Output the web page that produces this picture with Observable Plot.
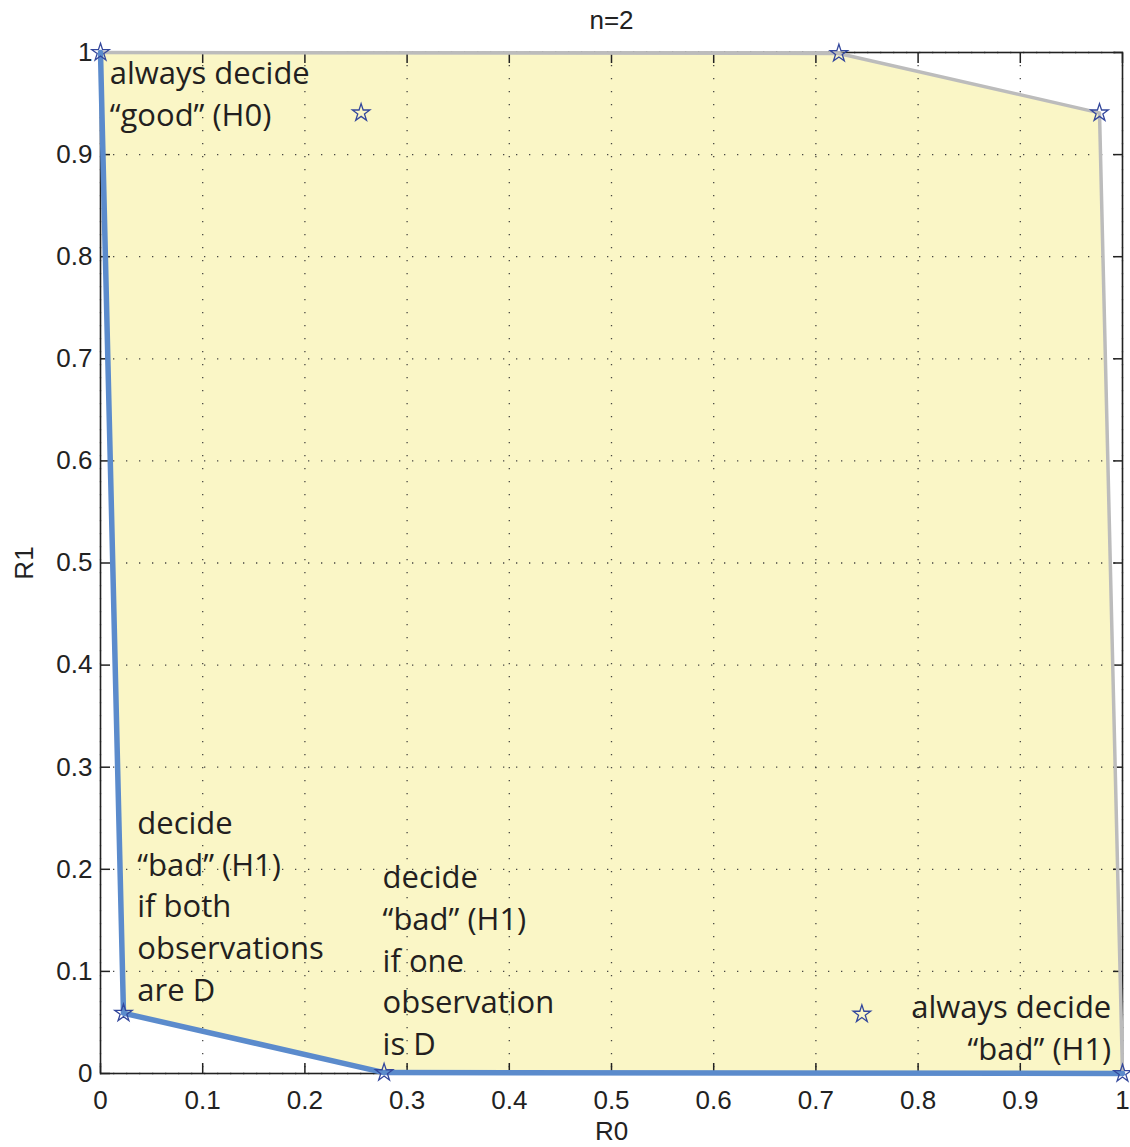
<!DOCTYPE html>
<html><head><meta charset="utf-8">
<script src="https://cdn.jsdelivr.net/npm/d3@7"></script>
<script src="https://cdn.jsdelivr.net/npm/@observablehq/plot@0.6"></script>
<style>body{margin:0;background:#fff}</style>
</head><body><div id="chart"></div>
<script>
// Achievable points (R0, R1) for n=2
const starR0 = [0, 0.0225, 0.2775, 1, 0.2550, 0.7225, 0.9775, 0.7450];
const starR1 = [1, 0.0591, 0.0009, 0, 0.9409, 0.9991, 0.9409, 0.0582];
// lower boundary (blue) and upper boundary (gray)
const lowerR0 = [0, 0.0225, 0.2775, 1];
const lowerR1 = [1, 0.0591, 0.0009, 0];
const upperR0 = [0, 0.7225, 0.9775, 1];
const upperR1 = [1, 0.9991, 0.9409, 0];
// ticks
const ticks = [0, 0.1, 0.2, 0.3, 0.4, 0.5, 0.6, 0.7, 0.8, 0.9, 1];
const tickLabels = ["0", "0.1", "0.2", "0.3", "0.4", "0.5", "0.6", "0.7", "0.8", "0.9", "1"];
// annotations
const noteText = ["always decide\n“good” (H0)", "decide\n“bad” (H1)\nif both\nobservations\nare D", "decide\n“bad” (H1)\nif one\nobservation\nis D", "always decide\n“bad” (H1)"];
const noteR0 = [0.009, 0.036, 0.276, 0.989];
const noteR1 = [0.962, 0.166, 0.113, 0.047];
const noteAlign = ["start", "start", "start", "end"];
const title = "n=2";

const pts = starR0.map((x, i) => ({x, y: starR1[i]}));
const lower = lowerR0.map((x, i) => ({x, y: lowerR1[i]}));
const upper = upperR0.map((x, i) => ({x, y: upperR1[i]}));
const hull = upper.concat(lower.slice().reverse());
const notes = noteText.map((t, i) => ({t, x: noteR0[i], y: noteR1[i], a: noteAlign[i]}));
const fmt = d => tickLabels[ticks.indexOf(d)];

const axisFont = "'Liberation Sans', Arial, sans-serif";
const noteFont = "'Open Sans', sans-serif";

const chart = Plot.plot({
  width: 1130, height: 1147,
  marginLeft: 100, marginRight: 8, marginTop: 52, marginBottom: 74,
  x: {domain: [0, 1]},
  y: {domain: [0, 1]},
  style: {fontFamily: axisFont, background: "#fff", color: "#222"},
  marks: [
    Plot.line(hull, {x: "x", y: "y", fill: "#faf6c6", stroke: "none", curve: "linear-closed"}),
    Plot.gridX(ticks, {stroke: "#333", strokeOpacity: 0.9, strokeWidth: 1.3, strokeDasharray: "1.3,11.7"}),
    Plot.gridY(ticks, {stroke: "#333", strokeOpacity: 0.9, strokeWidth: 1.3, strokeDasharray: "1.3,11.7"}),
    Plot.frame({stroke: "#222", strokeWidth: 1.6}),
    Plot.axisX(ticks, {anchor: "bottom", tickSize: 0, tickPadding: 17, tickFormat: fmt, fontSize: 26, label: "R0", labelAnchor: "center", labelOffset: 66, labelArrow: "none"}),
    Plot.axisY(ticks, {anchor: "left", tickSize: 0, tickPadding: 8, tickFormat: fmt, fontSize: 26, label: "R1", labelAnchor: "center", labelOffset: 86, labelArrow: "none"}),
    Plot.axisX(ticks, {anchor: "bottom", tickSize: -10, text: null, label: null, strokeWidth: 1.5}),
    Plot.axisX(ticks, {anchor: "top", tickSize: -10, text: null, label: null, strokeWidth: 1.5}),
    Plot.axisY(ticks, {anchor: "left", tickSize: -10, text: null, label: null, strokeWidth: 1.5}),
    Plot.axisY(ticks, {anchor: "right", tickSize: -10, text: null, label: null, strokeWidth: 1.5}),
    Plot.line(upper, {x: "x", y: "y", stroke: "#bcbcbc", strokeWidth: 3.5}),
    Plot.line(lower, {x: "x", y: "y", stroke: "#5b8bcc", strokeWidth: 5.5}),
    Plot.dot(pts, {x: "x", y: "y", symbol: "star", r: 5.5, stroke: "#33479c", strokeWidth: 1.3, fill: "none"}),
    Plot.text(notes.filter(d => d.a === "start"), {x: "x", y: "y", text: "t", textAnchor: "start", lineAnchor: "middle", lineHeight: 1.35, fontSize: 31, fontFamily: noteFont, fill: "#231f20"}),
    Plot.text(notes.filter(d => d.a === "end"), {x: "x", y: "y", text: "t", textAnchor: "end", lineAnchor: "middle", lineHeight: 1.35, fontSize: 31, fontFamily: noteFont, fill: "#231f20"}),
    Plot.text([title], {frameAnchor: "top", dy: -42, fontSize: 26, fontFamily: axisFont, fill: "#222"})
  ]
});
document.getElementById("chart").appendChild(chart);
</script>
</body></html>
